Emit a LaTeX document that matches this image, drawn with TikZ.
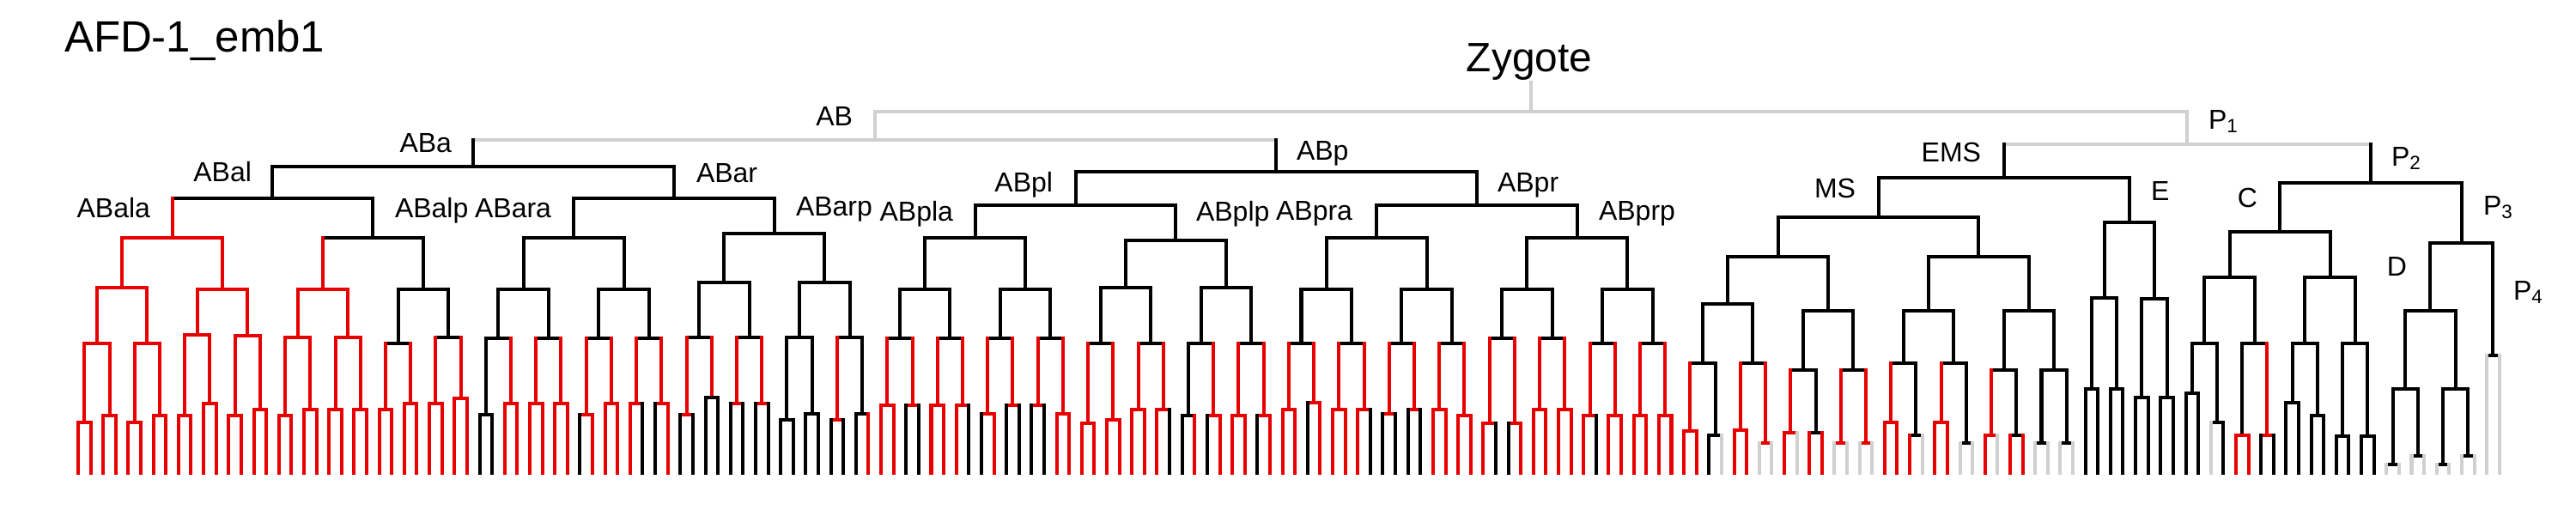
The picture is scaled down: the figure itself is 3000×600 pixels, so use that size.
\documentclass[tikz,border=0pt]{standalone}
\usepackage{fontspec}
\setmainfont{Liberation Sans}
\definecolor{xR}{RGB}{232,0,0}
\definecolor{xK}{RGB}{0,0,0}
\definecolor{xG}{RGB}{208,208,208}
% vertical line: colour, leaf index expr, y1, y2
\newcommand\vl[4]{\draw[#1] ({91+14.61*(#2)},#3) -- ({91+14.61*(#2)},#4);}
% horizontal line: colour, idx1, idx2, y
\newcommand\hl[4]{\draw[#1] ({91+14.61*(#2)},#4) -- ({91+14.61*(#3)},#4);}
% complete sub-lineage cell: vcol, hcol, first leaf, last leaf, ytop, ybot
\newcommand\cell[6]{\vl{#1}{((#3)+(#4))/2}{#5}{#6}\hl{#2}{(3*(#3)+(#4)-1)/4}{((#3)+3*(#4)+1)/4}{#6}}
% pair: vcol, hcol, first leaf, ytop, ybot, leafcol1, leafcol2
\newcommand\pr[7]{\cell{#1}{#2}{#3}{#3+1}{#4}{#5}\vl{#6}{#3}{#5}{551}\vl{#7}{#3+1}{#5}{551}}
\begin{document}
\begin{tikzpicture}[x=0.01cm,y=-0.01cm,line width=1.14pt,line cap=rect,
  lab/.style={inner sep=0pt,font=\fontsize{9.1pt}{10pt}\selectfont},
  title/.style={inner sep=0pt,font=\fontsize{14.5pt}{16pt}\selectfont}]
\useasboundingbox (0,0) rectangle (3000,600);
% ---------- labels ----------
\node[title,anchor=base west] (ttl) at (73,60) {AFD-1\_emb1};
\node[title,anchor=base,font=\fontsize{13.6pt}{15pt}\selectfont] (zyg) at (1781,83) {Zygote};
\node[lab,anchor=base east] (lAB) at (995,146) {AB};
\node[lab,anchor=base west] (lP1) at (2570,150) {P\textsubscript{1}};
\node[lab,anchor=base east] (lABa) at (528,177) {ABa};
\node[lab,anchor=base west] (lABp) at (1508,186) {ABp};
\node[lab,anchor=base east] (lEMS) at (2309,188) {EMS};
\node[lab,anchor=base west] (lP2) at (2783,193) {P\textsubscript{2}};
\node[lab,anchor=base east] (lABal) at (295,211) {ABal};
\node[lab,anchor=base west] (lABar) at (809,212) {ABar};
\node[lab,anchor=base east] (lABpl) at (1228,223) {ABpl};
\node[lab,anchor=base west] (lABpr) at (1742,223) {ABpr};
\node[lab,anchor=base east] (lMS) at (2163,230) {MS};
\node[lab,anchor=base west] (lE) at (2503,233) {E};
\node[lab,anchor=base east] (lC) at (2631,241) {C};
\node[lab,anchor=base west] (lP3) at (2890,250) {P\textsubscript{3}};
\node[lab,anchor=base east] (lABala) at (177,253) {ABala};
\node[lab,anchor=base west] (lABalp) at (458,253) {ABalp};
\node[lab,anchor=base east] (lABara) at (644,253) {ABara};
\node[lab,anchor=base west] (lABarp) at (925,251) {ABarp};
\node[lab,anchor=base east] (lABpla) at (1112,257) {ABpla};
\node[lab,anchor=base west] (lABplp) at (1391,257) {ABplp};
\node[lab,anchor=base east] (lABpra) at (1577,256) {ABpra};
\node[lab,anchor=base west] (lABprp) at (1860,256) {ABprp};
\node[lab,anchor=base east] (lD) at (2805,321) {D};
\node[lab,anchor=base west] (lP4) at (2925,349) {P\textsubscript{4}};
% ---------- founders ----------
\vl{xG}{115.8125}{96}{130}
\hl{xG}{63.5}{168.125}{130}
\vl{xG}{63.5}{130}{163}
\hl{xG}{31.5}{95.5}{163}
\vl{xG}{168.125}{130}{168}
\hl{xG}{153.5}{182.75}{168}
\vl{xK}{31.5}{163}{194}
\hl{xK}{15.5}{47.5}{194}
\vl{xK}{95.5}{163}{200}
\hl{xK}{79.5}{111.5}{200}
\vl{xK}{153.5}{168}{207}
\hl{xK}{143.5}{163.5}{207}
\vl{xK}{182.75}{168}{213}
\hl{xK}{175.5}{190}{213}
\cell{xK}{xK}{0}{31}{194}{231}
\cell{xK}{xK}{32}{63}{194}{231}
\cell{xK}{xK}{64}{95}{200}{239}
\cell{xK}{xK}{96}{127}{200}{239}
\cell{xK}{xK}{128}{159}{207}{253}
\cell{xK}{xK}{160}{167}{207}{259}
\cell{xK}{xK}{168}{183}{213}{270}
\vl{xK}{190}{213}{283}
\hl{xK}{187.5}{192.5}{283}
\cell{xK}{xK}{184}{191}{283}{362}
\pr{xK}{xK}{192}{283}{414}{xG}{xG}
% ---------- 16-leaf level ----------
\cell{xR}{xR}{0}{15}{231}{277}
\cell{xK}{xK}{16}{31}{231}{277}
\cell{xK}{xK}{32}{47}{231}{277}
\cell{xK}{xK}{48}{63}{231}{272}
\cell{xK}{xK}{64}{79}{239}{277}
\cell{xK}{xK}{80}{95}{239}{280}
\cell{xK}{xK}{96}{111}{239}{277}
\cell{xK}{xK}{112}{127}{239}{277}
\cell{xK}{xK}{128}{143}{253}{299}
\cell{xK}{xK}{144}{159}{253}{299}
\cell{xK}{xK}{168}{175}{270}{323}
\cell{xK}{xK}{176}{183}{270}{323}
\cell{xK}{xK}{160}{163}{259}{347}
\cell{xK}{xK}{164}{167}{259}{348}
\cell{xK}{xK}{184}{187}{362}{453}
\cell{xK}{xK}{188}{191}{362}{453}
% ---------- 8-leaf level ----------
\cell{xR}{xR}{0}{7}{277}{335}
\cell{xR}{xR}{8}{15}{277}{337}
\cell{xR}{xR}{16}{23}{277}{337}
\cell{xK}{xK}{24}{31}{277}{337}
\cell{xK}{xK}{32}{39}{277}{337}
\cell{xK}{xK}{40}{47}{277}{337}
\cell{xK}{xK}{48}{55}{272}{329}
\cell{xK}{xK}{56}{63}{272}{329}
\cell{xK}{xK}{64}{71}{277}{337}
\cell{xK}{xK}{72}{79}{277}{337}
\cell{xK}{xK}{80}{87}{280}{335}
\cell{xK}{xK}{88}{95}{280}{335}
\cell{xK}{xK}{96}{103}{277}{337}
\cell{xK}{xK}{104}{111}{277}{337}
\cell{xK}{xK}{112}{119}{277}{337}
\cell{xK}{xK}{120}{127}{277}{337}
\cell{xK}{xK}{128}{135}{299}{354}
\cell{xK}{xK}{136}{143}{299}{362}
\cell{xK}{xK}{144}{151}{299}{362}
\cell{xK}{xK}{152}{159}{299}{362}
% ---------- 4-leaf level ----------
\cell{xR}{xR}{0}{3}{335}{400}
\cell{xR}{xR}{4}{7}{335}{400}
\cell{xR}{xR}{8}{11}{337}{390}
\cell{xR}{xR}{12}{15}{337}{391}
\cell{xR}{xR}{16}{19}{337}{393}
\cell{xR}{xR}{20}{23}{337}{393}
\cell{xK}{xK}{24}{27}{337}{400}
\cell{xK}{xK}{28}{31}{337}{393}
\cell{xK}{xK}{32}{35}{337}{394}
\cell{xK}{xK}{36}{39}{337}{394}
\cell{xK}{xK}{40}{43}{337}{394}
\cell{xK}{xK}{44}{47}{337}{394}
\cell{xK}{xK}{48}{51}{329}{393}
\cell{xK}{xK}{52}{55}{329}{393}
\cell{xK}{xK}{56}{59}{329}{393}
\cell{xK}{xK}{60}{63}{329}{393}
\cell{xK}{xK}{64}{67}{337}{394}
\cell{xK}{xK}{68}{71}{337}{394}
\cell{xK}{xK}{72}{75}{337}{394}
\cell{xK}{xK}{76}{79}{337}{394}
\cell{xK}{xK}{80}{83}{335}{400}
\cell{xK}{xK}{84}{87}{335}{400}
\cell{xK}{xK}{88}{91}{335}{400}
\cell{xK}{xK}{92}{95}{335}{400}
\cell{xK}{xK}{96}{99}{337}{400}
\cell{xK}{xK}{100}{103}{337}{400}
\cell{xK}{xK}{104}{107}{337}{400}
\cell{xK}{xK}{108}{111}{337}{400}
\cell{xK}{xK}{112}{115}{337}{394}
\cell{xK}{xK}{116}{119}{337}{394}
\cell{xK}{xK}{120}{123}{337}{400}
\cell{xK}{xK}{124}{127}{337}{400}
\cell{xK}{xK}{128}{131}{354}{423}
\cell{xK}{xK}{132}{135}{354}{423}
\cell{xK}{xK}{136}{139}{362}{431}
\cell{xK}{xK}{140}{143}{362}{431}
\cell{xK}{xK}{144}{147}{362}{423}
\cell{xK}{xK}{148}{151}{362}{423}
\cell{xK}{xK}{152}{155}{362}{431}
\cell{xK}{xK}{156}{159}{362}{431}
\cell{xK}{xK}{168}{171}{323}{400}
\cell{xK}{xK}{172}{175}{323}{400}
\cell{xK}{xK}{176}{179}{323}{400}
\cell{xK}{xK}{180}{183}{323}{400}
% ---------- pairs and leaves ----------
\pr{xR}{xR}{0}{400}{492}{xR}{xR}
\pr{xR}{xR}{2}{400}{484}{xR}{xR}
\pr{xR}{xR}{4}{400}{492}{xR}{xR}
\pr{xR}{xR}{6}{400}{484}{xR}{xR}
\pr{xR}{xR}{8}{390}{484}{xR}{xR}
\pr{xR}{xR}{10}{390}{470}{xR}{xR}
\pr{xR}{xR}{12}{391}{484}{xR}{xR}
\pr{xR}{xR}{14}{391}{477}{xR}{xR}
\pr{xR}{xR}{16}{393}{484}{xR}{xR}
\pr{xR}{xR}{18}{393}{477}{xR}{xR}
\pr{xR}{xR}{20}{393}{477}{xR}{xR}
\pr{xR}{xR}{22}{393}{477}{xR}{xR}
\pr{xR}{xR}{24}{400}{477}{xR}{xR}
\pr{xR}{xR}{26}{400}{470}{xR}{xR}
\pr{xR}{xR}{28}{393}{470}{xR}{xR}
\pr{xR}{xR}{30}{393}{464}{xR}{xR}
\pr{xK}{xK}{32}{394}{483}{xK}{xK}
\pr{xR}{xR}{34}{394}{470}{xR}{xR}
\pr{xR}{xR}{36}{394}{470}{xR}{xR}
\pr{xR}{xR}{38}{394}{470}{xR}{xR}
\pr{xR}{xR}{40}{394}{483}{xK}{xR}
\pr{xR}{xR}{42}{394}{470}{xR}{xR}
\pr{xR}{xR}{44}{394}{470}{xR}{xK}
\pr{xR}{xR}{46}{394}{470}{xK}{xR}
\pr{xR}{xR}{48}{393}{483}{xK}{xK}
\pr{xR}{xK}{50}{393}{463}{xK}{xK}
\pr{xR}{xR}{52}{393}{470}{xK}{xK}
\pr{xR}{xR}{54}{393}{470}{xK}{xK}
\pr{xK}{xK}{56}{393}{489}{xK}{xK}
\pr{xK}{xK}{58}{393}{482}{xK}{xK}
\pr{xR}{xR}{60}{393}{489}{xK}{xK}
\pr{xK}{xK}{62}{393}{482}{xK}{xR}
\pr{xR}{xR}{64}{394}{472}{xR}{xR}
\pr{xR}{xR}{66}{394}{472}{xK}{xK}
\pr{xR}{xR}{68}{394}{472}{xR}{xR}
\pr{xR}{xR}{70}{394}{472}{xR}{xK}
\pr{xR}{xR}{72}{394}{482}{xK}{xR}
\pr{xR}{xR}{74}{394}{472}{xK}{xK}
\pr{xR}{xR}{76}{394}{472}{xK}{xK}
\pr{xR}{xR}{78}{394}{482}{xR}{xR}
\pr{xR}{xR}{80}{400}{493}{xR}{xR}
\pr{xR}{xR}{82}{400}{489}{xR}{xR}
\pr{xR}{xR}{84}{400}{477}{xR}{xR}
\pr{xR}{xR}{86}{400}{477}{xR}{xK}
\pr{xK}{xK}{88}{400}{484}{xK}{xR}
\pr{xR}{xR}{90}{400}{484}{xK}{xR}
\pr{xR}{xR}{92}{400}{484}{xR}{xR}
\pr{xR}{xR}{94}{400}{484}{xK}{xR}
\pr{xR}{xR}{96}{400}{477}{xR}{xR}
\pr{xR}{xR}{98}{400}{469}{xK}{xR}
\pr{xR}{xR}{100}{400}{477}{xR}{xR}
\pr{xR}{xR}{102}{400}{477}{xR}{xK}
\pr{xR}{xR}{104}{400}{482}{xK}{xK}
\pr{xR}{xR}{106}{400}{477}{xK}{xK}
\pr{xR}{xR}{108}{400}{477}{xR}{xR}
\pr{xR}{xR}{110}{400}{484}{xR}{xR}
\pr{xR}{xR}{112}{394}{493}{xR}{xK}
\pr{xR}{xR}{114}{394}{493}{xK}{xR}
\pr{xR}{xR}{116}{394}{477}{xR}{xR}
\pr{xR}{xR}{118}{394}{477}{xR}{xR}
\pr{xR}{xR}{120}{400}{484}{xR}{xK}
\pr{xR}{xR}{122}{400}{484}{xR}{xR}
\pr{xR}{xR}{124}{400}{484}{xR}{xR}
\pr{xR}{xR}{126}{400}{484}{xR}{xR}
\pr{xR}{xR}{128}{423}{502}{xR}{xR}
\pr{xK}{xK}{130}{423}{507}{xK}{xG}
\pr{xR}{xR}{132}{423}{501}{xR}{xR}
\pr{xR}{xR}{134}{423}{516}{xG}{xG}
\pr{xR}{xR}{136}{431}{504}{xR}{xG}
\pr{xK}{xK}{138}{431}{504}{xR}{xR}
\pr{xR}{xR}{140}{431}{516}{xG}{xG}
\pr{xR}{xR}{142}{431}{516}{xG}{xG}
\pr{xR}{xR}{144}{423}{492}{xR}{xR}
\pr{xK}{xK}{146}{423}{507}{xR}{xG}
\pr{xR}{xR}{148}{423}{492}{xR}{xR}
\pr{xK}{xK}{150}{423}{516}{xG}{xG}
\pr{xR}{xR}{152}{431}{507}{xR}{xG}
\pr{xK}{xK}{154}{431}{507}{xR}{xR}
\pr{xK}{xK}{156}{431}{516}{xG}{xG}
\pr{xK}{xK}{158}{431}{516}{xG}{xG}
\pr{xK}{xK}{160}{347}{453}{xK}{xK}
\pr{xK}{xK}{162}{347}{453}{xK}{xK}
\pr{xK}{xK}{164}{348}{463}{xK}{xK}
\pr{xK}{xK}{166}{348}{463}{xK}{xK}
\pr{xK}{xK}{168}{400}{458}{xK}{xK}
\pr{xK}{xK}{170}{400}{492}{xG}{xK}
\pr{xK}{xR}{172}{400}{507}{xR}{xR}
\pr{xR}{xR}{174}{400}{507}{xK}{xK}
\pr{xK}{xK}{176}{400}{469}{xK}{xK}
\pr{xK}{xK}{178}{400}{484}{xK}{xK}
\pr{xK}{xK}{180}{400}{508}{xK}{xK}
\pr{xK}{xK}{182}{400}{508}{xK}{xK}
\pr{xK}{xK}{184}{453}{541}{xG}{xG}
\pr{xK}{xK}{186}{453}{531}{xG}{xG}
\pr{xK}{xK}{188}{453}{541}{xG}{xG}
\pr{xK}{xK}{190}{453}{531}{xG}{xG}
\end{tikzpicture}
\end{document}
